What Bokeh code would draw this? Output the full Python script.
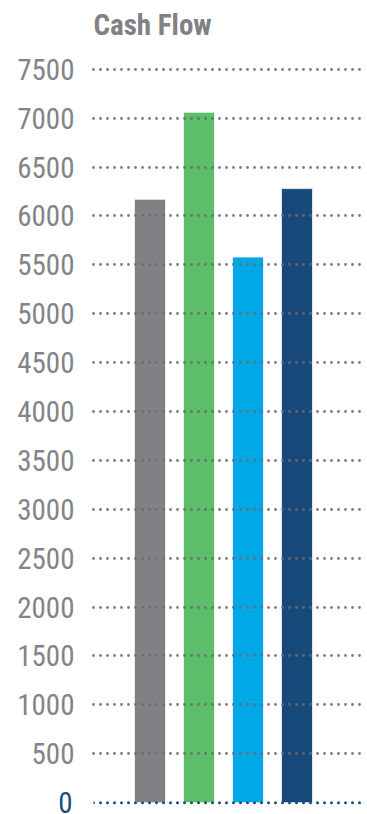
from bokeh.plotting import figure
from bokeh.models import Range1d, FixedTicker, Span, LinearAxis, Grid, Label
from bokeh.embed import file_html
from bokeh.resources import INLINE

categories = ["Series 1", "Series 2", "Series 3", "Series 4"]
values = [6170, 7060, 5580, 6280]
colors = ["#808185", "#5cbd6a", "#00a8e8", "#174a7b"]
y_ticks = [0, 500, 1000, 1500, 2000, 2500, 3000, 3500, 4000, 4500, 5000, 5500, 6000, 6500, 7000, 7500]
title_text = "Cash Flow"

FONT = "'Liberation Sans Narrow', 'Roboto Condensed', Roboto, sans-serif"
X_START, X_END = -0.153, 5.337
Y_START, Y_END = -60, 8204      # top of range leaves room for the title
TITLE_Y = 7950                   # title baseline (data units)

xs = [i + 1 for i in range(len(categories))]

p = figure(width=367, height=814, output_backend="svg", toolbar_location=None,
           x_range=Range1d(X_START, X_END), y_range=Range1d(Y_START, Y_END),
           x_axis_location=None, y_axis_location=None,
           min_border_left=93, min_border_right=5, min_border_top=0, min_border_bottom=6)
p.outline_line_color = None
for g in p.grid:
    g.visible = False

p.vbar(x=xs, top=values, width=0.633, bottom=0, fill_color=colors,
       line_color="white", line_alpha=0.7, line_width=1)

title = Label(x=X_START, y=TITLE_Y, text=title_text, text_align="left",
              text_baseline="alphabetic", text_font=FONT, text_font_size="29px",
              text_font_style="bold", text_color="#808184")
p.add_layout(title)

def style_axis(ax, color, standoff):
    ax.axis_line_color = None
    ax.major_tick_line_color = None
    ax.minor_tick_line_color = None
    ax.major_label_text_font = FONT
    ax.major_label_text_font_size = "29px"
    ax.major_label_text_color = color
    ax.major_label_standoff = standoff

zero_axis = LinearAxis(ticker=FixedTicker(ticks=y_ticks[:1]))
style_axis(zero_axis, "#1b4f80", 15)
p.add_layout(zero_axis, "left")

main_axis = LinearAxis(ticker=FixedTicker(ticks=y_ticks[1:]))
style_axis(main_axis, "#838487", -25)
p.add_layout(main_axis, "left")

grid = Grid(dimension=1, ticker=FixedTicker(ticks=y_ticks[1:]),
            grid_line_color="#6a6b6e", grid_line_alpha=0.9, grid_line_width=2.8,
            grid_line_dash="0 7", grid_line_cap="round", level="overlay")
p.add_layout(grid)

zero = Span(location=y_ticks[0], dimension="width", line_color="#1b4f80",
            line_width=3, line_dash="0 7", line_cap="round", level="overlay")
p.add_layout(zero)

open("out.html", "w").write(file_html(p, INLINE))
